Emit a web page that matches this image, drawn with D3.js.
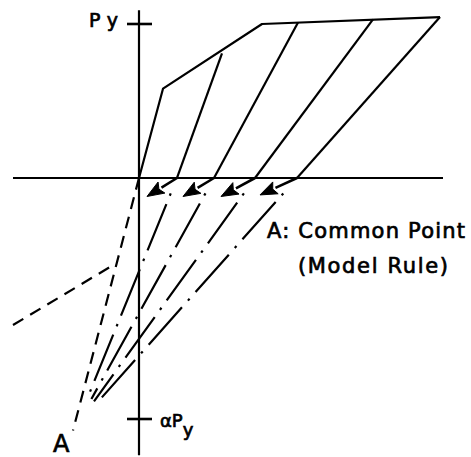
<!DOCTYPE html>
<html><head><meta charset="utf-8">
<script src="https://cdn.jsdelivr.net/npm/d3@7"></script>
<style>html,body{margin:0;padding:0;background:#fff;} svg{display:block;}</style>
</head><body>
<script>
// Skeleton (envelope) curve: displacement and force (force in units of Py)
const envelopeDisp  = [0, 1.2, 6.15, 15.05];
const envelopeForce = [0, 0.58, 1.0, 1.045];
// Peaks from which unloading starts
const peakDisp  = [4.15, 7.95, 11.7, 15.05];
const peakForce = [0.81, 1.01, 1.03, 1.045];
// Zero-force points reached after unloading
const residualDisp = [1.9, 3.75, 5.8, 7.9];
// Arrow tips showing the load reversal direction
const arrowTipDisp  = [0.4, 2.2, 4.1, 6.05];
const arrowTipForce = [-0.12, -0.12, -0.12, -0.11];
// Reloading lines end near the common point A
const commonDisp  = [-2.55, -2.38, -2.25, -2.1];
const commonForce = [-1.42, -1.435, -1.45, -1.46];
// Dashed guide from the origin through A
const guideDisp  = [0, -3.3];
const guideForce = [0, -1.64];
// Negative skeleton branch (dashed)
const negDisp  = [-6.3, -1.35];
const negForce = [-0.955, -0.57];
// Axis extents and tick levels
const axisDisp  = [-6.3, 15.2];
const axisForce = [-1.8, 1.09];
const alpha = -1.565;
const tickForce = [1, alpha];
const labelA = "A";
const labelCommon = "A: Common Point";
const labelRule = "(Model Rule)";

const W = 471, H = 457;
const x = d3.scaleLinear().domain([-6.95, 16.6]).range([0, W]);
const y = d3.scaleLinear().domain([-1.8117, 1.1558]).range([H, 0]);

const svg = d3.select("body").append("svg").attr("width", W).attr("height", H)
  .style("font-family", "'DejaVu Sans', sans-serif");

const line = d3.line().x(d => x(d[0])).y(d => y(d[1]));
const ink = "#000";

// axes
svg.append("line").attr("x1", x(axisDisp[0])).attr("x2", x(axisDisp[1]))
  .attr("y1", y(0)).attr("y2", y(0)).attr("stroke", ink).attr("stroke-width", 2.2);
svg.append("line").attr("x1", x(0)).attr("x2", x(0))
  .attr("y1", y(axisForce[0])).attr("y2", y(axisForce[1])).attr("stroke", ink).attr("stroke-width", 2.2);
svg.selectAll("line.tick").data(tickForce).join("line").attr("class", "tick")
  .attr("x1", x(0) - 12).attr("x2", x(0) + 13)
  .attr("y1", d => y(d)).attr("y2", d => y(d)).attr("stroke", ink).attr("stroke-width", 2.6);

// envelope
svg.append("path").attr("d", line(envelopeDisp.map((d, i) => [d, envelopeForce[i]])))
  .attr("fill", "none").attr("stroke", ink).attr("stroke-width", 2.2).attr("stroke-linejoin", "round");

// unloading branches
svg.selectAll("path.unload").data(peakDisp).join("path").attr("class", "unload")
  .attr("d", (d, i) => line([[d, peakForce[i]], [residualDisp[i], 0]]))
  .attr("fill", "none").attr("stroke", ink).attr("stroke-width", 2.2);

// arrows
residualDisp.forEach((r, i) => {
  const x0 = x(r), y0 = y(0), x1 = x(arrowTipDisp[i]), y1 = y(arrowTipForce[i]);
  const L = Math.hypot(x1 - x0, y1 - y0), ux = (x1 - x0) / L, uy = (y1 - y0) / L;
  const hl = 17, hw = 6.5;
  const bx = x1 - ux * hl, by = y1 - uy * hl;
  svg.append("line").attr("x1", x0).attr("y1", y0).attr("x2", bx).attr("y2", by)
    .attr("stroke", ink).attr("stroke-width", 2.6);
  svg.append("path").attr("d", `M${x1},${y1}L${bx - uy * hw},${by + ux * hw}L${bx + ux * 3},${by + uy * 3}L${bx + uy * hw},${by - ux * hw}Z`)
    .attr("fill", ink).attr("stroke", ink).attr("stroke-width", 1).attr("stroke-linejoin", "round");
});

// reloading lines toward the common point (dash-dot)
residualDisp.forEach((r, i) => {
  const p0 = [r, 0], p1 = [commonDisp[i], commonForce[i]];
  const t = 0.1 / (0 - p1[1]);
  const s = [p0[0] + (p1[0] - p0[0]) * t, p0[1] + (p1[1] - p0[1]) * t];
  svg.append("path").attr("d", line([s, p1])).attr("fill", "none")
    .attr("stroke", ink).attr("stroke-width", 2.2).attr("stroke-dasharray", "2.5,9,50,9");
});

// dashed guide through A
svg.append("path").attr("d", line(guideDisp.map((d, i) => [d, guideForce[i]])))
  .attr("fill", "none").attr("stroke", ink).attr("stroke-width", 2.2).attr("stroke-dasharray", "12,8");
// negative skeleton branch
svg.append("path").attr("d", line(negDisp.map((d, i) => [d, negForce[i]])))
  .attr("fill", "none").attr("stroke", ink).attr("stroke-width", 2.2).attr("stroke-dasharray", "12,8");

// labels (slightly stroked for a heavier pen weight)
const txt = sel => sel.attr("fill", ink).attr("stroke", ink).attr("stroke-width", 0.7);
txt(svg.append("text").attr("x", 89).attr("y", y(1) + 3).attr("font-size", 19)
  .attr("textLength", 29).attr("lengthAdjust", "spacing").text("Py"));
const ap = txt(svg.append("text").attr("x", 160).attr("y", y(alpha) + 8).attr("font-size", 18));
ap.append("tspan").text("αP");
ap.append("tspan").attr("dy", 9).attr("font-size", 18).text("y");
txt(svg.append("text").attr("x", 53).attr("y", 452).attr("font-size", 24).text(labelA));
txt(svg.append("text").attr("x", 267).attr("y", 238).attr("font-size", 21)
  .attr("textLength", 198).attr("lengthAdjust", "spacing").text(labelCommon));
txt(svg.append("text").attr("x", 298).attr("y", 273).attr("font-size", 21)
  .attr("textLength", 150).attr("lengthAdjust", "spacing").text(labelRule));
</script>
</body></html>
